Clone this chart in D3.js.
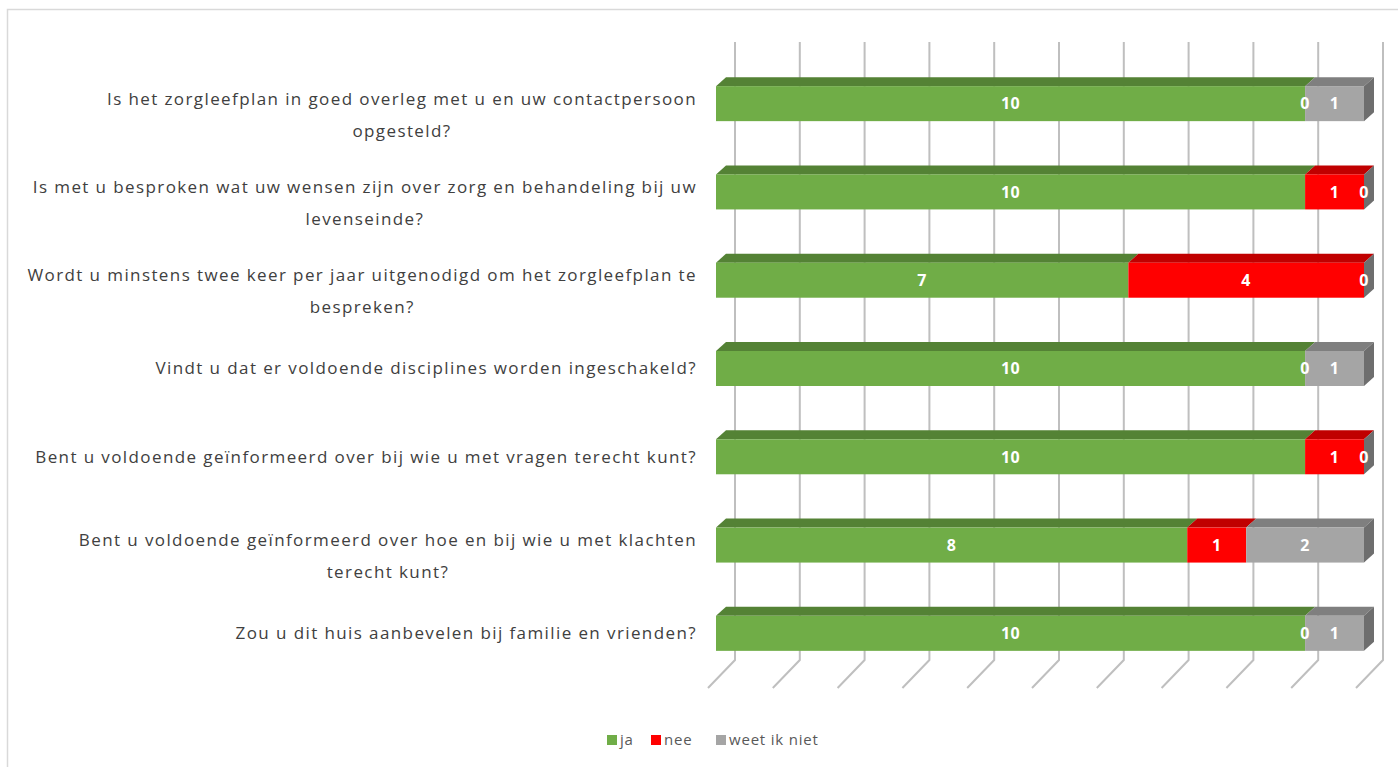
<!DOCTYPE html>
<html>
<head>
<meta charset="utf-8">
<script src="https://cdn.jsdelivr.net/npm/d3@7"></script>
<style>
  body { margin: 0; background: #fff; }
  svg { display: block; }
  text { font-family: "Open Sans", sans-serif; }
</style>
</head>
<body>
<div id="container"></div>
<script>
// survey answers, 11 respondents per question
let questions = [
    ["Is het zorgleefplan in goed overleg met u en uw contactpersoon", "opgesteld?"],
    ["Is met u besproken wat uw wensen zijn over zorg en behandeling bij uw", "levenseinde?"],
    ["Wordt u minstens twee keer per jaar uitgenodigd om het zorgleefplan te", "bespreken?"],
    ["Vindt u dat er voldoende disciplines worden ingeschakeld?"],
    ["Bent u voldoende geïnformeerd over bij wie u met vragen terecht kunt?"],
    ["Bent u voldoende geïnformeerd over hoe en bij wie u met klachten", "terecht kunt?"],
    ["Zou u dit huis aanbevelen bij familie en vrienden?"]
];
let seriesNames = ["ja", "nee", "weet ik niet"];
let ja = [10, 10, 7, 10, 10, 8, 10];
let nee = [0, 1, 4, 0, 1, 1, 0];
let weetNiet = [1, 0, 0, 1, 0, 2, 1];
let gridTicks = [0, 0.1, 0.2, 0.3, 0.4, 0.5, 0.6, 0.7, 0.8, 0.9, 1];

let w = 1398;
let h = 767;

let frontColors = ["#70ad47", "#ff0000", "#a5a5a5"];
let topColors = ["#548235", "#c00000", "#7f7f7f"];
let sideColors = ["#4e7a31", "#a00000", "#6e6e6e"];

// depth of the 3d look
let barDx = 10, barDy = -9;   // bar front -> bar back
let wallDx = 19;              // bar front -> back wall
let floorDx = -27, floorDy = 28;

let viz = d3.select('#container')
    .append('svg')
    .attr('width', w)
    .attr('height', h);

// chart border
viz.append('rect')
    .attr('x', 7.5).attr('y', 9.5)
    .attr('width', w + 20).attr('height', h + 20)
    .attr('fill', 'none')
    .attr('stroke', '#d9d9d9')
    .attr('stroke-width', 1.5);

let rows = questions.map((q, i) => ({ key: i, label: q, values: [ja[i], nee[i], weetNiet[i]] }));

let yScale = d3.scaleBand()
    .domain(rows.map(d => d.key))
    .range([59.5, 677.5]);
let barH = 35;
let pct = d3.scaleLinear().domain([0, 1]).range([716, 1364]);

// GRIDLINES (back wall + floor)
let wallTop = 42, wallBottom = 660;
let gridGroup = viz.append('g').classed('grid', true);
gridTicks.forEach(t => {
    let x = pct(t) + wallDx;
    gridGroup.append('path')
        .attr('d', `M${x},${wallTop} L${x},${wallBottom} L${x + floorDx},${wallBottom + floorDy}`)
        .attr('fill', 'none')
        .attr('stroke', '#bfbfbf')
        .attr('stroke-width', 2);
});

// BARS
let graphGroup = viz.append('g').classed('graphGroup', true);
rows.forEach(row => {
    let total = d3.sum(row.values);
    let x = d3.scaleLinear().domain([0, total]).range(pct.range());
    let y0 = yScale(row.key) + (yScale.bandwidth() - barH) / 2;
    let g = graphGroup.append('g').classed('datapoint', true);
    let cum = 0;
    let segs = row.values.map((v, s) => {
        let seg = { s: s, v: v, x0: x(cum), x1: x(cum + v) };
        cum += v;
        return seg;
    });
    segs.forEach(seg => {
        if (seg.v === 0) return;
        // top face
        g.append('path')
            .attr('d', `M${seg.x0},${y0} L${seg.x0 + barDx},${y0 + barDy} L${seg.x1 + barDx},${y0 + barDy} L${seg.x1},${y0} Z`)
            .attr('fill', topColors[seg.s]);
        // front face
        g.append('rect')
            .attr('x', seg.x0).attr('y', y0)
            .attr('width', seg.x1 - seg.x0).attr('height', barH)
            .attr('fill', frontColors[seg.s]);
    });
    // right side face, always in the colour of the last series
    let xr = x(total);
    g.append('path')
        .attr('d', `M${xr},${y0} L${xr + barDx},${y0 + barDy} L${xr + barDx},${y0 + barDy + barH} L${xr},${y0 + barH} Z`)
        .attr('fill', sideColors[2]);
    // value labels
    segs.forEach(seg => {
        g.append('text')
            .attr('x', (seg.x0 + seg.x1) / 2)
            .attr('y', y0 + barH / 2)
            .attr('dy', '0.36em')
            .attr('text-anchor', 'middle')
            .attr('font-size', 16)
            .attr('font-weight', 'bold')
            .attr('letter-spacing', 0.5)
            .attr('fill', '#ffffff')
            .text(seg.v);
    });
});

// CATEGORY LABELS
let labelGroup = viz.append('g').classed('labels', true);
let labelRight = 697;
rows.forEach(row => {
    let cy = yScale(row.key) + yScale.bandwidth() / 2;
    let t = labelGroup.append('text')
        .attr('font-size', 17)
        .attr('letter-spacing', 1.4)
        .attr('fill', '#404040')
        .attr('text-anchor', 'middle');
    let first = t.append('tspan').text(row.label[0]);
    let lw = first.node().getComputedTextLength();
    let cx = labelRight - lw / 2;
    let yFirst = row.label.length > 1 ? cy - 5 : cy;
    first.attr('x', cx).attr('y', yFirst).attr('dy', '0.35em');
    for (let k = 1; k < row.label.length; k++) {
        t.append('tspan')
            .attr('x', cx)
            .attr('y', yFirst + 32 * k)
            .attr('dy', '0.35em')
            .text(row.label[k]);
    }
});

// LEGEND
let legend = viz.append('g').classed('legend', true);
let legendX = [607, 651, 716];
seriesNames.forEach((name, i) => {
    legend.append('rect')
        .attr('x', legendX[i]).attr('y', 735)
        .attr('width', 10).attr('height', 10)
        .attr('fill', frontColors[i]);
    legend.append('text')
        .attr('x', legendX[i] + 13).attr('y', 740)
        .attr('dy', '0.35em')
        .attr('font-size', 15)
        .attr('letter-spacing', 0.8)
        .attr('fill', '#595959')
        .text(name);
});
</script>
</body>
</html>
